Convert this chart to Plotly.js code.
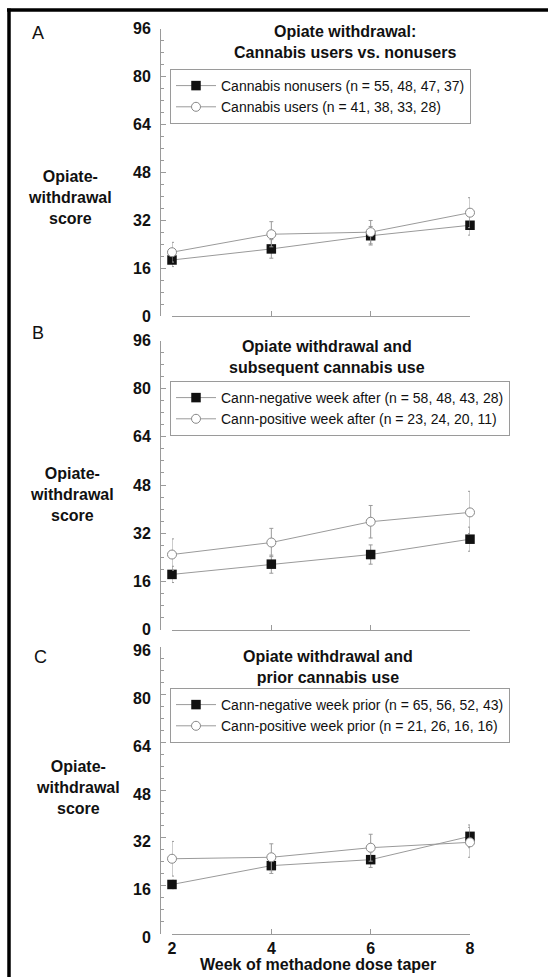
<!DOCTYPE html>
<html><head><meta charset="utf-8">
<script src="https://cdn.plot.ly/plotly-3.0.1.min.js"></script>
<style>html,body{margin:0;padding:0;background:#fff}</style>
</head><body><div id="chart" style="width:548px;height:977px"></div>
<script>
// ---- data ----
const weeks = [2, 4, 6, 8];
const yTicks = [0, 16, 32, 48, 64, 80, 96];

const aNonusers = [18.7, 22.4, 26.8, 30.3];
const aNonusersErr = [2.2, 3.1, 3.1, 3.3];
const aUsers = [21.3, 27.3, 28.0, 34.5];
const aUsersErr = [3.3, 4.2, 3.9, 5.0];

const bNegative = [18.3, 21.7, 24.9, 30.0];
const bNegativeErr = [2.7, 3.0, 3.2, 4.0];
const bPositive = [24.9, 28.9, 35.8, 38.9];
const bPositiveErr = [5.2, 4.7, 5.4, 7.0];

const cNegative = [16.4, 22.7, 24.7, 32.5];
const cNegativeErr = [1.4, 2.6, 2.6, 3.8];
const cPositive = [25.0, 25.5, 28.7, 30.5];
const cPositiveErr = [5.8, 4.5, 4.5, 5.0];

const namesA = ['Cannabis nonusers (n = 55, 48, 47, 37)', 'Cannabis users (n = 41, 38, 33, 28)'];
const namesB = ['Cann-negative week after (n = 58, 48, 43, 28)', 'Cann-positive week after (n = 23, 24, 20, 11)'];
const namesC = ['Cann-negative week prior (n = 65, 56, 52, 43)', 'Cann-positive week prior (n = 21, 26, 16, 16)'];
const titles = ['Opiate withdrawal:<br>Cannabis users vs. nonusers', 'Opiate withdrawal and<br>subsequent cannabis use', 'Opiate withdrawal and<br>prior cannabis use'];
const panelLetters = ['A', 'B', 'C'];
const yTitle = 'Opiate-<br>withdrawal<br>score';
const xTitle = 'Week of methadone dose taper';

// ---- layout helpers ----
const W = 548, H = 977;
const FONT = 'Liberation Sans, Arial, Helvetica, sans-serif';
const px = v => v / W;
const py = v => 1 - v / H;
const GRAY = '#9a9a9a';

function sq(y, err, name, xa, ya, lg) {
  return {x: weeks, y: y, name: name, xaxis: xa, yaxis: ya, legend: lg, type: 'scatter', mode: 'lines+markers',
    cliponaxis: false,
    line: {color: GRAY, width: 1},
    marker: {symbol: 'square', size: 9.5, color: '#111', line: {width: 0}},
    error_y: {type: 'data', array: err, visible: true, color: GRAY, thickness: 1, width: 2}};
}
function circ(y, err, name, xa, ya, lg) {
  return {x: weeks, y: y, name: name, xaxis: xa, yaxis: ya, legend: lg, type: 'scatter', mode: 'lines+markers',
    cliponaxis: false,
    line: {color: GRAY, width: 1},
    marker: {symbol: 'circle', size: 9, color: '#fff', line: {color: '#888', width: 1}},
    error_y: {type: 'data', array: err, visible: true, color: GRAY, thickness: 1, width: 2}};
}

const data = [
  sq(aNonusers, aNonusersErr, namesA[0], 'x', 'y', 'legend'),
  circ(aUsers, aUsersErr, namesA[1], 'x', 'y', 'legend'),
  sq(bNegative, bNegativeErr, namesB[0], 'x2', 'y2', 'legend2'),
  circ(bPositive, bPositiveErr, namesB[1], 'x2', 'y2', 'legend2'),
  sq(cNegative, cNegativeErr, namesC[0], 'x3', 'y3', 'legend3'),
  circ(cPositive, cPositiveErr, namesC[1], 'x3', 'y3', 'legend3')
];

const xDomain = [px(172), px(470)];
const yPos = px(160);
const panels = [
  {top: 28.5, bottom: 316, titleX: 345, titleY: 42, letterX: 38, letterY: 33, ytX: 70, ytY: 197, legTop: 69, shift: 0},
  {top: 340.5, bottom: 629.5, titleX: 327, titleY: 356.5, letterX: 38, letterY: 333, ytX: 72, ytY: 495, legTop: 381, shift: 0},
  {top: 646.5, bottom: 933.5, titleX: 328, titleY: 667, letterX: 40, letterY: 657, ytX: 78, ytY: 787, legTop: 688, shift: 4}
];

function xAxis(i, showLabels) {
  return {domain: xDomain, anchor: i === 0 ? 'y' : 'y' + (i + 1), range: [2, 8],
    tickvals: weeks, ticktext: weeks.map(String), ticks: 'inside', ticklen: 5, tickcolor: GRAY, tickwidth: 1,
    showticklabels: showLabels, showline: true, linecolor: GRAY, linewidth: 1, showgrid: false, zeroline: false,
    ticklabelstandoff: 0,
    tickfont: {family: FONT, size: 16, color: '#111', weight: 'bold'}, fixedrange: true};
}
function yAxis(i) {
  const p = panels[i];
  return {domain: [py(p.bottom), py(p.top)], anchor: 'free', position: yPos, range: [0, 96],
    tickvals: yTicks, ticktext: yTicks.map(String), ticks: 'inside', ticklen: 5, tickcolor: GRAY, tickwidth: 1,
    minor: {dtick: 4, tick0: 0, ticks: 'inside', ticklen: 3, tickcolor: GRAY, tickwidth: 1, showgrid: false},
    showline: true, linecolor: GRAY, linewidth: 1, showgrid: false, zeroline: false,
    ticklabelstandoff: 6, ticklabelshift: p.shift,
    tickfont: {family: FONT, size: 16, color: '#111', weight: 'bold'}, fixedrange: true};
}

const annotations = [];
panels.forEach((p, i) => {
  annotations.push({xref: 'paper', yref: 'paper', x: px(p.titleX), y: py(p.titleY), xanchor: 'center', yanchor: 'middle',
    showarrow: false, text: titles[i], font: {family: FONT, size: 16, color: '#111', weight: 'bold'}});
  annotations.push({xref: 'paper', yref: 'paper', x: px(p.letterX), y: py(p.letterY), xanchor: 'center', yanchor: 'middle',
    showarrow: false, text: panelLetters[i], font: {family: FONT, size: 18, color: '#111'}});
  annotations.push({xref: 'paper', yref: 'paper', x: px(p.ytX), y: py(p.ytY), xanchor: 'center', yanchor: 'middle',
    showarrow: false, text: yTitle, font: {family: FONT, size: 16, color: '#111', weight: 'bold'}});
});
annotations.push({xref: 'paper', yref: 'paper', x: px(318), y: py(964), xanchor: 'center', yanchor: 'middle',
  showarrow: false, text: xTitle, font: {family: FONT, size: 16, color: '#111', weight: 'bold'}});

function legendBox(p) {
  return {x: px(170), y: py(p.legTop), xref: 'paper', yref: 'paper', xanchor: 'left', yanchor: 'top',
    bgcolor: '#fff', bordercolor: GRAY, borderwidth: 1, itemwidth: 40, tracegroupgap: 0,
    font: {family: FONT, size: 14, color: '#111'}};
}

const layout = {
  width: W, height: H, margin: {l: 0, r: 0, t: 0, b: 0},
  paper_bgcolor: '#fff', plot_bgcolor: '#fff', showlegend: true,
  xaxis: xAxis(0, false), xaxis2: xAxis(1, false), xaxis3: xAxis(2, true),
  yaxis: yAxis(0), yaxis2: yAxis(1), yaxis3: yAxis(2),
  legend: legendBox(panels[0]), legend2: legendBox(panels[1]), legend3: legendBox(panels[2]),
  annotations: annotations,
  shapes: [
    {type: 'line', xref: 'paper', yref: 'paper', x0: px(7), x1: 1, y0: py(10), y1: py(10), line: {color: '#000', width: 3.5}},
    {type: 'line', xref: 'paper', yref: 'paper', x0: px(9), x1: px(9), y0: py(8.5), y1: 0, line: {color: '#000', width: 3.5}}
  ]
};

Plotly.newPlot('chart', data, layout, {displayModeBar: false, staticPlot: true});
</script>
</body></html>
